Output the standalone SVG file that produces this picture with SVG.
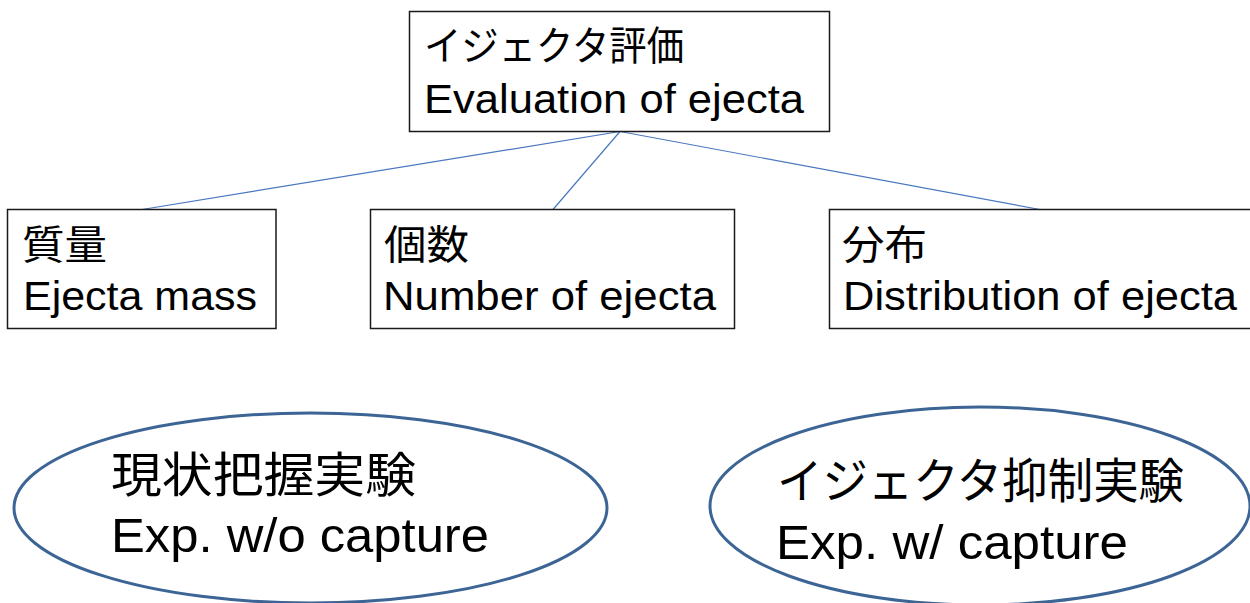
<svg xmlns="http://www.w3.org/2000/svg" width="1250" height="603" viewBox="0 0 1250 603">
<style>
.box{fill:#fff;stroke:#1a1a1a;stroke-width:1.5}
.ell{fill:#fff;stroke:#3c6596;stroke-width:3}
.con{stroke:#4a78c0;stroke-width:1.2;fill:none}
.t{font-family:"Liberation Sans","Noto Sans CJK JP",sans-serif;fill:#000}
.j{font-family:"Noto Sans CJK JP","Liberation Sans",sans-serif;fill:#000}
</style>
<rect width="1250" height="603" fill="#fff"/>
<g id="connectors">
<line class="con" x1="620" y1="131.5" x2="142" y2="209.5"/>
<line class="con" x1="620" y1="131.5" x2="553" y2="209.5"/>
<line class="con" x1="620" y1="131.5" x2="1040" y2="209.5"/>
</g>
<g id="node-eval">
<rect class="box" x="409.5" y="11.5" width="420" height="120"/>
<text class="j" x="424" y="60" font-size="40" textLength="260" lengthAdjust="spacingAndGlyphs">イジェクタ評価</text>
<text class="t" x="424" y="112.5" font-size="40" textLength="380" lengthAdjust="spacingAndGlyphs">Evaluation of ejecta</text>
</g>
<g id="node-mass">
<rect class="box" x="7.5" y="209.5" width="268.5" height="119"/>
<text class="j" x="22" y="259" font-size="40" textLength="85" lengthAdjust="spacingAndGlyphs">質量</text>
<text class="t" x="23" y="310" font-size="40" textLength="234" lengthAdjust="spacingAndGlyphs">Ejecta mass</text>
</g>
<g id="node-number">
<rect class="box" x="370.5" y="209.5" width="364" height="119"/>
<text class="j" x="384" y="259" font-size="40" textLength="85" lengthAdjust="spacingAndGlyphs">個数</text>
<text class="t" x="383" y="310" font-size="40" textLength="333" lengthAdjust="spacingAndGlyphs">Number of ejecta</text>
</g>
<g id="node-distribution">
<rect class="box" x="829.5" y="209.5" width="440" height="119"/>
<text class="j" x="842" y="259" font-size="40" textLength="85" lengthAdjust="spacingAndGlyphs">分布</text>
<text class="t" x="843" y="310" font-size="40" textLength="394" lengthAdjust="spacingAndGlyphs">Distribution of ejecta</text>
</g>
<g id="node-exp-without">
<ellipse class="ell" cx="310.5" cy="508" rx="296.5" ry="95"/>
<text class="j" x="111" y="492" font-size="48" textLength="305" lengthAdjust="spacingAndGlyphs">現状把握実験</text>
<text class="t" x="111" y="552" font-size="48" textLength="378" lengthAdjust="spacingAndGlyphs">Exp. w/o capture</text>
</g>
<g id="node-exp-with">
<ellipse class="ell" cx="980" cy="506" rx="270" ry="99"/>
<text class="j" x="777" y="498" font-size="48" textLength="407" lengthAdjust="spacingAndGlyphs">イジェクタ抑制実験</text>
<text class="t" x="776" y="559" font-size="48" textLength="352" lengthAdjust="spacingAndGlyphs">Exp. w/ capture</text>
</g>
</svg>
